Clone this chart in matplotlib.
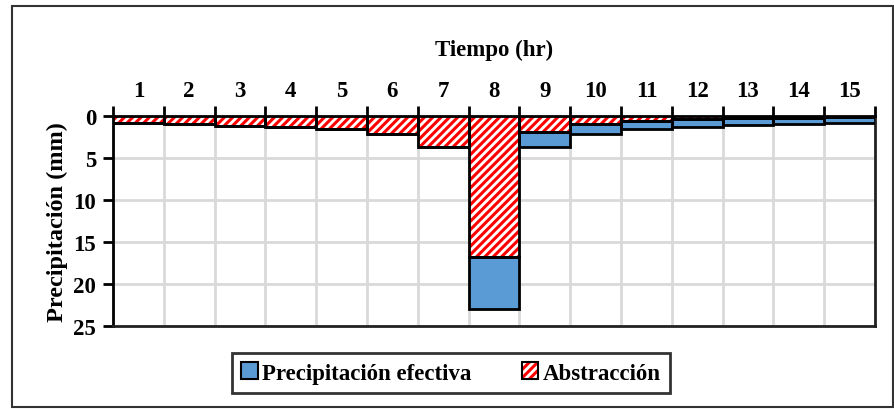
import numpy as np
import matplotlib
matplotlib.use("Agg")
import matplotlib.pyplot as plt
from matplotlib.patches import Rectangle, Patch
from matplotlib.legend_handler import HandlerTuple

plt.rcParams["font.family"] = ["Liberation Serif", "DejaVu Serif"]
plt.rcParams["font.weight"] = "bold"
plt.rcParams["hatch.linewidth"] = 2.2

hours = np.arange(1, 16)
abstraccion = [0.8, 1.0, 1.19, 1.31, 1.59, 2.1, 3.68, 16.83, 1.9, 0.91, 0.64, 0.4, 0.24, 0.2, 0.12]
efectiva = [0.0, 0.0, 0.0, 0.0, 0.0, 0.0, 0.0, 6.17, 1.78, 1.19, 0.87, 0.91, 0.88, 0.8, 0.71]
yticks = [0, 5, 10, 15, 20, 25]

RED = "#ff0000"
BLUE = "#5b9bd5"

fig = plt.figure(figsize=(8.95, 4.10), dpi=100)
ax = fig.add_axes([113 / 895, 1 - 327 / 410, (875 - 113) / 895, (327 - 117) / 410])

ax.bar(hours, abstraccion, width=1.0, color="white", edgecolor=RED, hatch="////",
       linewidth=0, zorder=3)
ax.bar(hours, efectiva, bottom=abstraccion, width=1.0, color=BLUE, linewidth=0, zorder=3)
# black outlines drawn separately so the hatch stays red
ax.bar(hours, abstraccion, width=1.0, fill=False, edgecolor="black", linewidth=2, zorder=4)
ax.bar(hours, efectiva, bottom=abstraccion, width=1.0, fill=False, edgecolor="black",
       linewidth=2, zorder=4)

ax.set_xlim(0.5, 15.5)
ax.set_ylim(25, 0)
ax.xaxis.tick_top()
ax.set_xticks(hours)
ax.set_xticklabels([str(h) for h in hours])
ax.set_xticks(np.arange(0.5, 16.5, 1.0), minor=True)
ax.tick_params(axis="x", which="major", length=0, pad=11, labelsize=16.5)
ax.tick_params(axis="x", which="minor", length=7, width=2, direction="out")
ax.set_yticks(yticks)
ax.tick_params(axis="y", length=7, width=2, labelsize=16.5, pad=5)
ax.grid(axis="x", which="minor", color="#d9d9d9", linewidth=2, zorder=0)
ax.grid(axis="y", which="major", color="#d9d9d9", linewidth=2, zorder=0)

for side in ["left", "top"]:
    ax.spines[side].set_linewidth(2)
for side in ["right", "bottom"]:
    ax.spines[side].set_linewidth(2)
    ax.spines[side].set_color("#222222")

ax.set_ylabel("Precipitación (mm)", fontsize=17.5, fontweight="bold", labelpad=4)
fig.text(494 / 895, 1 - 50 / 410, "Tiempo (hr)", ha="center", va="center",
         fontsize=16.5, fontweight="bold")

# legend handles: fill/hatch patch with a black frame on top
h_ef = (Patch(facecolor=BLUE, linewidth=0), Patch(fill=False, edgecolor="black", linewidth=1.5))
h_ab = (Patch(facecolor="white", edgecolor=RED, hatch="////", linewidth=0),
        Patch(fill=False, edgecolor="black", linewidth=1.5))
leg = fig.legend([h_ef, h_ab], ["Precipitación efectiva", "Abstracción"],
                 handler_map={tuple: HandlerTuple(ndivide=1, pad=0)},
                 loc="center", bbox_to_anchor=(451 / 895, 1 - 374 / 410),
                 ncol=2, frameon=True, fancybox=False, fontsize=16.5, handlelength=0.7,
                 handleheight=0.7, handletextpad=0.2, columnspacing=2.2, borderpad=0.4)
leg.get_frame().set_edgecolor("black")
leg.get_frame().set_linewidth(2)

fig.patches.append(Rectangle((12 / 895, 2 / 410), 881 / 895, 401 / 410, transform=fig.transFigure,
                             fill=False, edgecolor="#333333", linewidth=1.5))

fig.savefig("out.png", dpi=100)
